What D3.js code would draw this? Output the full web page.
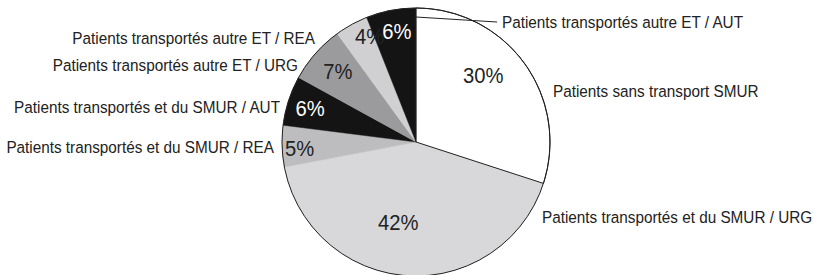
<!DOCTYPE html>
<meta charset="utf-8">
<style>
  body { margin: 0; background: #fff; }
  .lbl { font: 17px "Liberation Sans", Arial, sans-serif; fill: #222; }
  .pct { font: 22px "Liberation Sans", Arial, sans-serif; }
</style>
<svg width="813" height="275"></svg>
<script src="https://d3js.org/d3.v7.min.js"></script>
<script>

// data, clockwise from 12 o'clock
var categories = [
  "Patients sans transport SMUR",
  "Patients transportés et du SMUR / URG",
  "Patients transportés et du SMUR / REA",
  "Patients transportés et du SMUR / AUT",
  "Patients transportés autre ET / URG",
  "Patients transportés autre ET / REA",
  "Patients transportés autre ET / AUT"
];
var values = [30, 42, 5, 6, 7, 4, 6];

var colors = ["#ffffff", "#d8d8da", "#bdbdbf", "#141414", "#9b9b9d", "#d0d0d2", "#141414"];
var pctColors = ["#222", "#222", "#222", "#fff", "#222", "#222", "#fff"];

// percent label placement: [angle shift in degrees, fraction of radius]
var pctPlace = [[-9, 0.71], [9, 0.61], [-1, 0.87], [0, 0.83], [1, 0.79], [5, 0.86], [1, 0.84]];
// outer label placement relative to centre: [dx, dy, anchor]
var lblPlace = [
  [137, -51, "start"], [126, 75, "start"], [-142, 5, "end"], [-136, -35, "end"],
  [-118, -77, "end"], [-101, -104, "end"], [86, -120, "start"]
];
// the original uses a condensed face
var squeezeLbl = 0.9, squeezePct = 0.92;

var svg = d3.select("svg"),
    cx = 416, cy = 142, r = 134;

var g = svg.append("g").attr("transform", "translate(" + cx + "," + cy + ")");

var pie = d3.pie().sort(null).value(function(d) { return d; });
var arcs = pie(values);
var arc = d3.arc().innerRadius(0).outerRadius(r);

g.selectAll("path.slice")
  .data(arcs)
  .enter().append("path")
    .attr("class", "slice")
    .attr("d", arc)
    .attr("fill", function(d, i) { return colors[i]; })
    .attr("stroke", function(d, i) { return colors[i]; })
    .attr("stroke-width", 0.5);

// white slice edges and outline
g.append("path")
  .attr("d", arc(arcs[0]))
  .attr("fill", "none")
  .attr("stroke", "#222")
  .attr("stroke-width", 1);
g.append("circle")
  .attr("r", r)
  .attr("fill", "none")
  .attr("stroke", "#222")
  .attr("stroke-width", 1);

function pctPos(d, i) {
  var a = (d.startAngle + d.endAngle) / 2 + pctPlace[i][0] * Math.PI / 180;
  return [Math.sin(a) * r * pctPlace[i][1], -Math.cos(a) * r * pctPlace[i][1]];
}

g.selectAll("text.pct")
  .data(arcs)
  .enter().append("text")
    .attr("class", "pct")
    .attr("transform", function(d, i) {
      var p = pctPos(d, i);
      return "translate(" + p[0] + "," + p[1] + ") scale(" + squeezePct + ",1)";
    })
    .attr("dy", "0.36em")
    .attr("text-anchor", "middle")
    .attr("fill", function(d, i) { return pctColors[i]; })
    .text(function(d) { return d.data + "%"; });

g.selectAll("text.lbl")
  .data(categories)
  .enter().append("text")
    .attr("class", "lbl")
    .attr("transform", function(d, i) {
      return "translate(" + lblPlace[i][0] + "," + lblPlace[i][1] + ") scale(" + squeezeLbl + ",1)";
    })
    .attr("dy", "0.36em")
    .attr("text-anchor", function(d, i) { return lblPlace[i][2]; })
    .text(function(d) { return d; });

// leader line for the small top slice
var last = arcs[arcs.length - 1];
g.append("line")
  .attr("x1", Math.sin(last.endAngle - 0.001) * (r - 9))
  .attr("y1", -Math.cos(last.endAngle - 0.001) * (r - 9))
  .attr("x2", 81)
  .attr("y2", -120)
  .attr("stroke", "#222")
  .attr("stroke-width", 1);

</script>
